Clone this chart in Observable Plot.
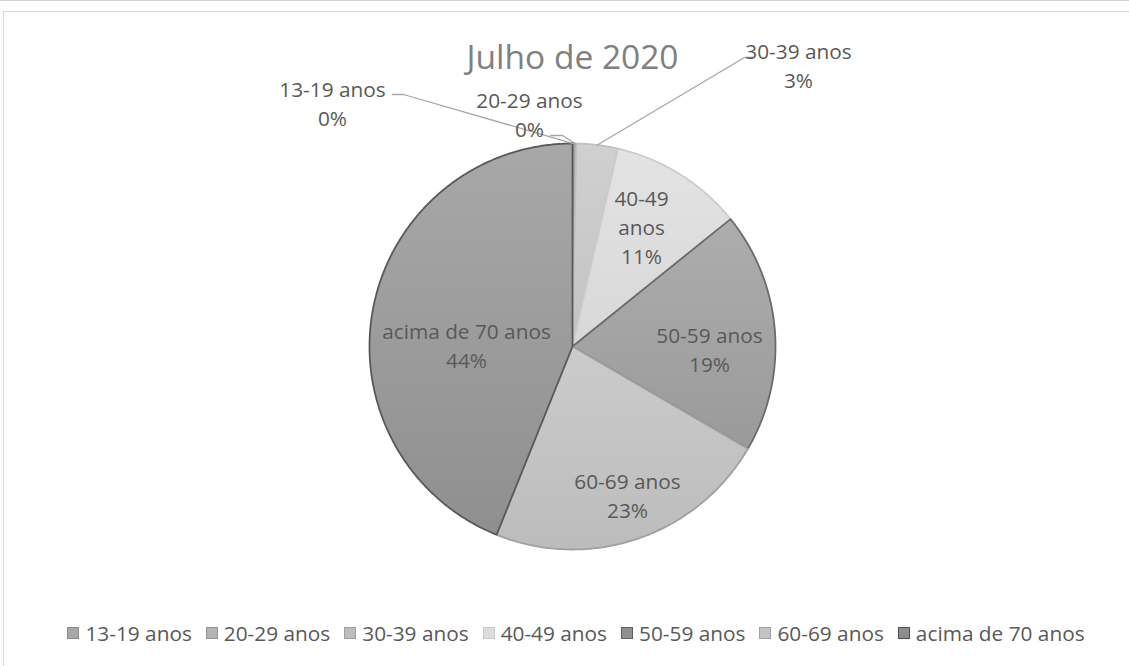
<!DOCTYPE html>
<html>
<head>
<meta charset="utf-8">
<script src="https://cdn.jsdelivr.net/npm/d3@7"></script>
<script src="https://cdn.jsdelivr.net/npm/@observablehq/plot@0.6"></script>
<style>
  html, body { margin: 0; padding: 0; background: #ffffff; }
  body { width: 1129px; height: 666px; overflow: hidden; position: relative; font-family: "Open Sans", sans-serif; }
  #topline { position: absolute; left: 0; top: 0; width: 1129px; height: 1px; background: #d2d2d2; }
  #frame { position: absolute; left: 3px; top: 11px; width: 1200px; height: 700px; border: 1.5px solid #d9d9d9; box-sizing: border-box; }
  #chart { position: absolute; left: 0; top: 0; }
  #legend { position: absolute; left: 0; width: 1152px; top: 619px; display: flex; justify-content: center; align-items: center; gap: 14px; white-space: nowrap; font-size: 20.8px; color: #595959; font-family: "Open Sans", sans-serif; }
  #legend .item { display: flex; align-items: center; }
  #legend .sw { width: 12px; height: 12px; box-sizing: border-box; border: 1px solid #777; margin-right: 6px; }
</style>
</head>
<body>
<div id="topline"></div>
<div id="frame"></div>
<div id="chart"></div>
<div id="legend"></div>
<script>
// ---- data ----
const title = "Julho de 2020";
const categories = ["13-19 anos", "20-29 anos", "30-39 anos", "40-49 anos", "50-59 anos", "60-69 anos", "acima de 70 anos"];
const shares = [0.1, 0.2, 3.3, 10.6, 19.2, 22.7, 43.9];
// ---- styles ----
const fillTop    = ["#ababab", "#b6b6b6", "#d0d0d0", "#e3e3e3", "#adadad", "#cbcbcb", "#a8a8a8"];
const fillBottom = ["#9f9f9f", "#aaaaaa", "#c3c3c3", "#d8d8d8", "#9a9a9a", "#bcbcbc", "#8f8f8f"];
const sliceStroke = ["#8a8a8a", "#9a9a9a", "#c0c0c0", "#cccccc", "#6b6b6b", "#a0a0a0", "#595959"];
const legendFill = ["#a8a8a8", "#b3b3b3", "#bdbdbd", "#dcdcdc", "#909090", "#c3c3c3", "#8e8e8e"];
const legendStroke = ["#8a8a8a", "#969696", "#a0a0a0", "#c8c8c8", "#5f5f5f", "#a0a0a0", "#505050"];
// label layout: pixel offsets of label centres / leader elbows from the pie centre
const R = 203, CX = 572, CY = 346, W = 1129, H = 610;
const labelLayout = [
  {dx: -240, dy: -244, leader: [[-180, -252], [-169, -252]]},
  {dx: -43,  dy: -233, leader: [[-22, -211], [-10, -211]]},
  {dx: 226,  dy: -282, leader: [[180, -289], [172, -289]]},
  {dx: 69,   dy: -121},
  {dx: 137,  dy: 2},
  {dx: 55,   dy: 148},
  {dx: -106, dy: -2}
];

const total = d3.sum(shares);
const arcs = d3.pie().sort(null).value(d => d)(shares);

// slice polygons in unit-circle coordinates (angle clockwise from top)
const slicePts = [];
arcs.forEach((a, i) => {
  const n = Math.max(2, Math.ceil((a.endAngle - a.startAngle) / (Math.PI / 360)));
  slicePts.push({x: 0, y: 0, k: i});
  for (let j = 0; j <= n; j++) {
    const t = a.startAngle + (a.endAngle - a.startAngle) * j / n;
    slicePts.push({x: Math.sin(t), y: Math.cos(t), k: i});
  }
});

// labels
const labels = arcs.map((a, i) => {
  const pct = Math.round(shares[i] / total * 100) + "%";
  const name = i === 3 ? categories[i].replace(" ", "\n") : categories[i];
  const L = labelLayout[i];
  return {x: L.dx / R, y: -L.dy / R, text: name + "\n" + pct};
});

// leader lines: layout elbows + point on the arc at mid-angle
const leaderPts = [];
arcs.forEach((a, i) => {
  const L = labelLayout[i];
  if (!L.leader) return;
  L.leader.forEach(p => leaderPts.push({x: p[0] / R, y: -p[1] / R, k: i}));
  const m = (a.startAngle + a.endAngle) / 2;
  leaderPts.push({x: Math.sin(m), y: Math.cos(m), k: i});
});

const plot = Plot.plot({
  width: W, height: H,
  margin: 0,
  x: {domain: [-CX / R, (W - CX) / R], axis: null},
  y: {domain: [-(H - CY) / R, CY / R], axis: null},
  color: {type: "identity"},
  style: {background: "transparent", fontFamily: "Open Sans, sans-serif"},
  marks: [
    Plot.line(slicePts, {
      x: "x", y: "y", z: "k",
      fill: d => `url(#slice-grad-${d.k})`,
      stroke: d => sliceStroke[d.k],
      strokeWidth: 1.8,
      curve: "linear-closed",
      strokeLinejoin: "round"
    }),
    Plot.line(leaderPts, {x: "x", y: "y", z: "k", stroke: "#a6a6a6", strokeWidth: 1.3}),
    Plot.text(labels, {
      x: "x", y: "y", text: "text",
      fontSize: 20.8, lineHeight: 1.4, fill: "#595959"
    }),
    Plot.text([title], {
      x: 0, y: (CY - 58) / R, text: d => d,
      fontSize: 33.5, fill: "#808080"
    })
  ]
});

// gradient definitions for slice fills
const ns = "http://www.w3.org/2000/svg";
const defs = document.createElementNS(ns, "defs");
categories.forEach((c, i) => {
  const g = document.createElementNS(ns, "linearGradient");
  g.setAttribute("id", `slice-grad-${i}`);
  g.setAttribute("x1", "0"); g.setAttribute("y1", "0");
  g.setAttribute("x2", "0"); g.setAttribute("y2", "1");
  [[0, fillTop[i]], [1, fillBottom[i]]].forEach(([o, col]) => {
    const s = document.createElementNS(ns, "stop");
    s.setAttribute("offset", o);
    s.setAttribute("stop-color", col);
    g.appendChild(s);
  });
  defs.appendChild(g);
});
plot.insertBefore(defs, plot.firstChild);
document.getElementById("chart").appendChild(plot);

// legend
const legend = document.getElementById("legend");
categories.forEach((c, i) => {
  const item = document.createElement("div");
  item.className = "item";
  const sw = document.createElement("div");
  sw.className = "sw";
  sw.style.background = legendFill[i];
  sw.style.borderColor = legendStroke[i];
  const t = document.createElement("span");
  t.textContent = c;
  item.appendChild(sw); item.appendChild(t);
  legend.appendChild(item);
});
</script>
</body>
</html>
